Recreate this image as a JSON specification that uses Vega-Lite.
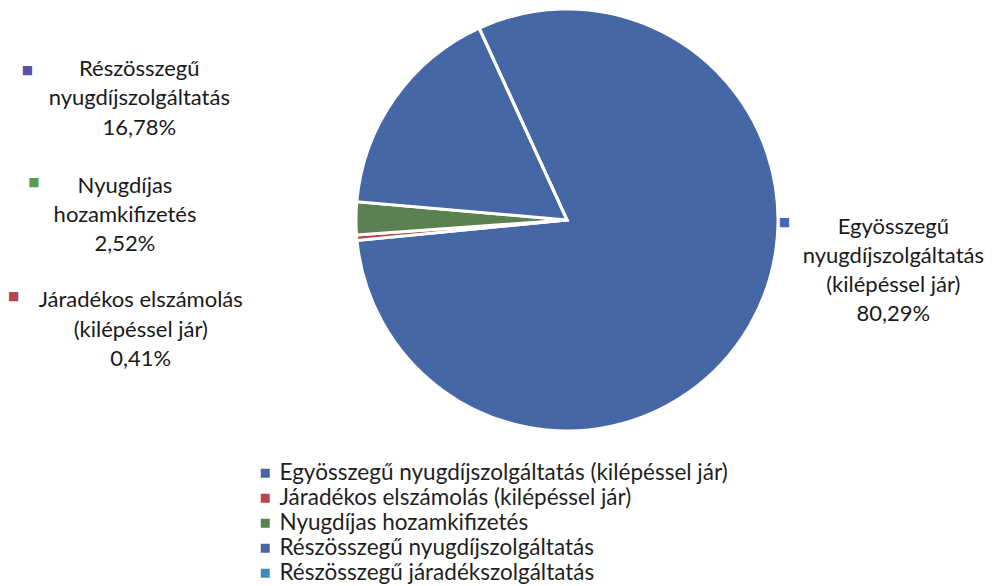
{
  "$schema": "https://vega.github.io/schema/vega-lite/v6.json",
  "width": 852,
  "height": 440,
  "autosize": {"type": "none"},
  "padding": {"left": 141, "top": 0, "right": 0, "bottom": 146},
  "background": "white",
  "config": {"view": {"stroke": null}, "font": "Lato"},
  "data": {
    "values": [
      {"cat": "Egyösszegű nyugdíjszolgáltatás (kilépéssel jár)", "value": 80.29, "idx": 1, "label": "Egyösszegű\nnyugdíjszolgáltatás\n(kilépéssel jár)\n80,29%"},
      {"cat": "Járadékos elszámolás (kilépéssel jár)", "value": 0.41, "idx": 2, "label": "Járadékos elszámolás\n(kilépéssel jár)\n0,41%"},
      {"cat": "Nyugdíjas hozamkifizetés", "value": 2.52, "idx": 3, "label": "Nyugdíjas\nhozamkifizetés\n2,52%"},
      {"cat": "Részösszegű nyugdíjszolgáltatás", "value": 16.78, "idx": 4, "label": "Részösszegű\nnyugdíjszolgáltatás\n16,78%"},
      {"cat": "Részösszegű járadékszolgáltatás", "value": 0, "idx": 5, "label": ""}
    ]
  },
  "encoding": {
    "theta": {"field": "value", "type": "quantitative", "stack": true, "scale": {"range": [-0.4294, 5.8538]}},
    "order": {"field": "idx", "type": "quantitative"},
    "detail": {"field": "cat", "type": "nominal"}
  },
  "layer": [
    {
      "mark": {"type": "arc", "outerRadius": 211, "stroke": "white", "strokeWidth": 3},
      "encoding": {
        "color": {
          "field": "cat",
          "type": "nominal",
          "scale": {
            "domain": ["Egyösszegű nyugdíjszolgáltatás (kilépéssel jár)", "Járadékos elszámolás (kilépéssel jár)", "Nyugdíjas hozamkifizetés", "Részösszegű nyugdíjszolgáltatás", "Részösszegű járadékszolgáltatás"],
            "range": ["#4567A5", "#B5474B", "#5B8150", "#4567A5", "#3C8DB5"]
          },
          "legend": {
            "title": null,
            "orient": "none",
            "legendX": 113,
            "legendY": 462,
            "direction": "vertical",
            "symbolType": "square",
            "symbolSize": 81,
            "symbolStrokeWidth": 0,
            "labelFont": "Lato",
            "labelFontSize": 22.5,
            "labelColor": "#1f1f1f",
            "labelOffset": 3,
            "labelLimit": 0,
            "rowPadding": 2,
            "padding": 0,
            "encode": {
              "symbols": {
                "update": {
                  "fill": {"signal": "datum.value === 'Részösszegű nyugdíjszolgáltatás' ? '#5550A8' : datum.value === 'Egyösszegű nyugdíjszolgáltatás (kilépéssel jár)' ? '#4468B8' : datum.value === 'Nyugdíjas hozamkifizetés' ? '#5C9A4E' : scale('color', datum.value)"}
                }
              }
            }
          }
        }
      }
    },
    {
      "mark": {"type": "text", "radius": 215, "dx": 140, "dy": -100, "align": "center", "baseline": "middle", "lineBreak": "\n", "font": "Lato", "fontSize": 22, "lineHeight": 29, "color": "#1a1a1a"},
      "encoding": {"text": {"condition": {"test": "datum.idx == 1", "field": "label"}, "value": ""}}
    },
    {
      "mark": {"type": "text", "radius": 215, "dx": -212, "dy": 62, "align": "center", "baseline": "middle", "lineBreak": "\n", "font": "Lato", "fontSize": 22, "lineHeight": 29.5, "color": "#1a1a1a"},
      "encoding": {"text": {"condition": {"test": "datum.idx == 2", "field": "label"}, "value": ""}}
    },
    {
      "mark": {"type": "text", "radius": 215, "dx": -227, "dy": -32.5, "align": "center", "baseline": "middle", "lineBreak": "\n", "font": "Lato", "fontSize": 22, "lineHeight": 29, "color": "#1a1a1a"},
      "encoding": {"text": {"condition": {"test": "datum.idx == 3", "field": "label"}, "value": ""}}
    },
    {
      "mark": {"type": "text", "radius": 215, "dx": -252, "dy": -27.5, "align": "center", "baseline": "middle", "lineBreak": "\n", "font": "Lato", "fontSize": 22, "lineHeight": 29.5, "color": "#1a1a1a"},
      "encoding": {"text": {"condition": {"test": "datum.idx == 4", "field": "label"}, "value": ""}}
    },
    {
      "mark": {"type": "text", "radius": 215, "dx": 31, "dy": -105, "align": "center", "baseline": "middle", "font": "DejaVu Sans", "fontSize": 12, "color": "#4468B8"},
      "encoding": {"text": {"condition": {"test": "datum.idx == 1", "value": "■"}, "value": ""}}
    },
    {
      "mark": {"type": "text", "radius": 215, "dx": -339, "dy": 58, "align": "center", "baseline": "middle", "font": "DejaVu Sans", "fontSize": 12, "color": "#B5474B"},
      "encoding": {"text": {"condition": {"test": "datum.idx == 2", "value": "■"}, "value": ""}}
    },
    {
      "mark": {"type": "text", "radius": 215, "dx": -318, "dy": -36, "align": "center", "baseline": "middle", "font": "DejaVu Sans", "fontSize": 12, "color": "#5C9A4E"},
      "encoding": {"text": {"condition": {"test": "datum.idx == 3", "value": "■"}, "value": ""}}
    },
    {
      "mark": {"type": "text", "radius": 215, "dx": -364, "dy": -26, "align": "center", "baseline": "middle", "font": "DejaVu Sans", "fontSize": 12, "color": "#5550A8"},
      "encoding": {"text": {"condition": {"test": "datum.idx == 4", "value": "■"}, "value": ""}}
    }
  ]
}
